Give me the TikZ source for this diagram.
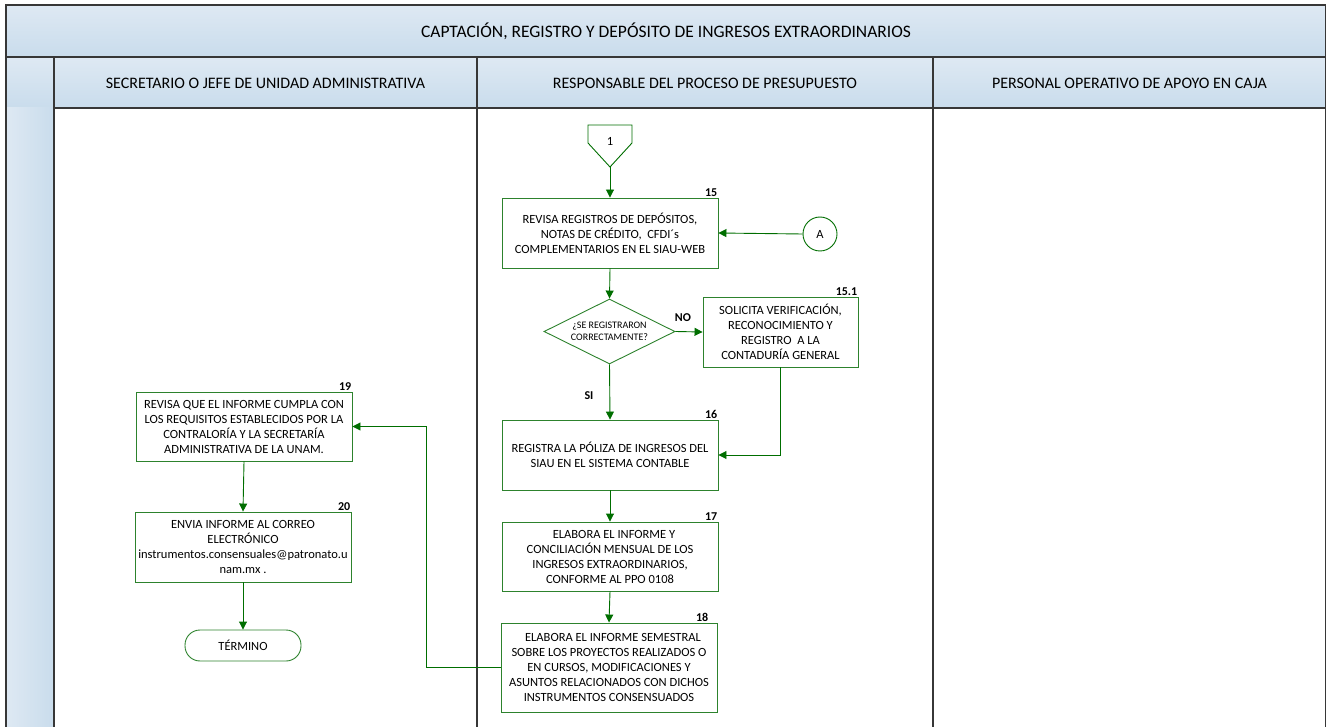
\documentclass[tikz,border=0pt]{standalone}
\usepackage{fontspec}
\setmainfont{Carlito}
\usetikzlibrary{arrows.meta,shapes.geometric,calc}
\definecolor{boxgreen}{RGB}{45,130,45}
\definecolor{arrgreen}{RGB}{0,110,0}
\definecolor{hdrA}{RGB}{222,233,243}
\definecolor{hdrB}{RGB}{201,220,236}
\definecolor{laneline}{RGB}{55,55,55}
\tikzset{
  box/.style={draw=boxgreen, line width=0.9pt, fill=white, rectangle, align=center, inner sep=2pt,
    font=\fontsize{12.5}{15}\selectfont},
  arr/.style={draw=arrgreen, line width=0.9pt, -{Triangle[length=8pt,width=8pt]}},
  lbl/.style={font=\bfseries\fontsize{12}{14}\selectfont, inner sep=1pt},
  hdrtxt/.style={font=\fontsize{16}{19}\selectfont},
  titletxt/.style={font=\fontsize{17.5}{20}\selectfont},
  lane/.style={draw=laneline, line width=1.2pt}
}
\begin{document}
\begin{tikzpicture}[x=1pt,y=-1pt]
\useasboundingbox (0,0) rectangle (1326,727);
% headers
\shade[top color=hdrA, bottom color=hdrB] (6,5) rectangle (1326,57);
\shade[top color=hdrA, bottom color=hdrB] (6,57) rectangle (1326,108);
\shade[left color=hdrA, right color=hdrB] (6,108) rectangle (54,727);
\draw[lane] (6,727) -- (6,5) -- (1326,5);
\draw[lane] (6,57) -- (1326,57);
\draw[lane] (54,108) -- (1326,108);
\draw[lane] (54,57) -- (54,727);
\draw[lane] (477,57) -- (477,727);
\draw[lane] (933,57) -- (933,727);
\draw[lane] (1325.4,5) -- (1325.4,727);
\node[titletxt] (title) at (666,31) {CAPTACIÓN, REGISTRO Y DEPÓSITO DE INGRESOS EXTRAORDINARIOS};
\node[hdrtxt] (h1) at (265.5,83) {SECRETARIO O JEFE DE UNIDAD ADMINISTRATIVA};
\node[hdrtxt] (h2) at (705,83) {RESPONSABLE DEL PROCESO DE PRESUPUESTO};
\node[hdrtxt] (h3) at (1129.5,83) {PERSONAL OPERATIVO DE APOYO EN CAJA};

% off-page connector 1
\draw[draw=arrgreen, line width=0.9pt, fill=white] (588,125) -- (632,125) -- (632,143) -- (610,167) -- (588,143) -- cycle;
\node[font=\fontsize{12.5}{14}\selectfont] (c1) at (610,141) {1};
\coordinate (c1tip) at (610,167);

% boxes
\node[box, minimum width=216pt, minimum height=70pt] (b15) at (610,233)
  {REVISA REGISTROS DE DEPÓSITOS,\\NOTAS DE CRÉDITO,\ \ CFDI´s\\COMPLEMENTARIOS EN EL SIAU-WEB};
\node[lbl, anchor=south east] at (b15.north east) {15};

\node[draw=arrgreen, line width=0.9pt, circle, minimum size=34pt, inner sep=0pt, fill=white,
  font=\fontsize{12.5}{14}\selectfont] (A) at (820,234) {A};

\node[draw=boxgreen, line width=0.9pt, diamond, minimum width=131pt, minimum height=65pt, inner sep=0pt,
  fill=white] (dia) at (609.5,331.5) {};
\node[align=center, font=\fontsize{10}{12}\selectfont, inner sep=0pt] (diatxt) at (dia.center)
  {¿SE REGISTRARON\\CORRECTAMENTE?};

\node[box, minimum width=155pt, minimum height=70pt] (b151) at (780.5,332)
  {SOLICITA VERIFICACIÓN,\\RECONOCIMIENTO Y\\REGISTRO\ \ A LA\\CONTADURÍA GENERAL};
\node[lbl, anchor=south east] at (b151.north east) {15.1};

\node[box, minimum width=216pt, minimum height=70pt] (b16) at (610,455)
  {REGISTRA LA PÓLIZA DE INGRESOS DEL\\SIAU EN EL SISTEMA CONTABLE};
\node[lbl, anchor=south east] at (b16.north east) {16};

\node[box, minimum width=216pt, minimum height=69pt] (b17) at (610,556.5)
  {\hspace*{8pt}ELABORA EL INFORME Y\\CONCILIACIÓN MENSUAL DE LOS\\INGRESOS EXTRAORDINARIOS,\\CONFORME AL PPO 0108};
\node[lbl, anchor=south east] at (b17.north east) {17};

\node[box, minimum width=216pt, minimum height=89pt] (b18) at (609,667.5)
  {\hspace*{8pt}ELABORA EL INFORME SEMESTRAL\\SOBRE LOS PROYECTOS REALIZADOS O\\EN CURSOS, MODIFICACIONES Y\\ASUNTOS RELACIONADOS CON DICHOS\\INSTRUMENTOS CONSENSUADOS};
\node[lbl, anchor=south east] at ($(b18.north east)+(-8,0)$) {18};

\node[box, minimum width=216pt, minimum height=69pt] (b19) at (244,426.5)
  {REVISA QUE EL INFORME CUMPLA CON\\LOS REQUISITOS ESTABLECIDOS POR LA\\CONTRALORÍA Y LA SECRETARÍA\\ADMINISTRATIVA DE LA UNAM.};
\node[lbl, anchor=south east] at (b19.north east) {19};

\node[box, minimum width=216pt, minimum height=70pt] (b20) at (243,547)
  {ENVIA INFORME AL CORREO\\ELECTRÓNICO\\instrumentos.consensuales@patronato.u\\nam.mx .};
\node[lbl, anchor=south east] at (b20.north east) {20};

\node[draw=boxgreen, line width=0.9pt, rounded corners=15pt, minimum width=116pt, minimum height=31pt,
  inner sep=0pt, font=\fontsize{12.5}{14}\selectfont] (term) at (243,645.5) {TÉRMINO};

% labels
\node[lbl] (no) at (683,318) {NO};
\node[lbl] (si) at (589,396) {SI};

% connectors
\draw[arr] (c1tip) -- (b15.north);
\draw[arr] (A.west) -- (b15.east);
\draw[arr] (b15.south) -- (dia.north);
\draw[arr] (dia.east) -- (b151.west);
\draw[arr] (dia.south) -- (b16.north);
\draw[arr] (b151.south) |- (b16.east);
\draw[arr] (b16.south) -- (b17.north);
\draw[arr] (b17.south) -- (b18.north);
\draw[arr] (b18.west) -- ++(-74,0) |- (b19.east);
\draw[arr] (b19.south) -- (b20.north);
\draw[arr] (b20.south) -- (term.north);
\end{tikzpicture}
\end{document}
